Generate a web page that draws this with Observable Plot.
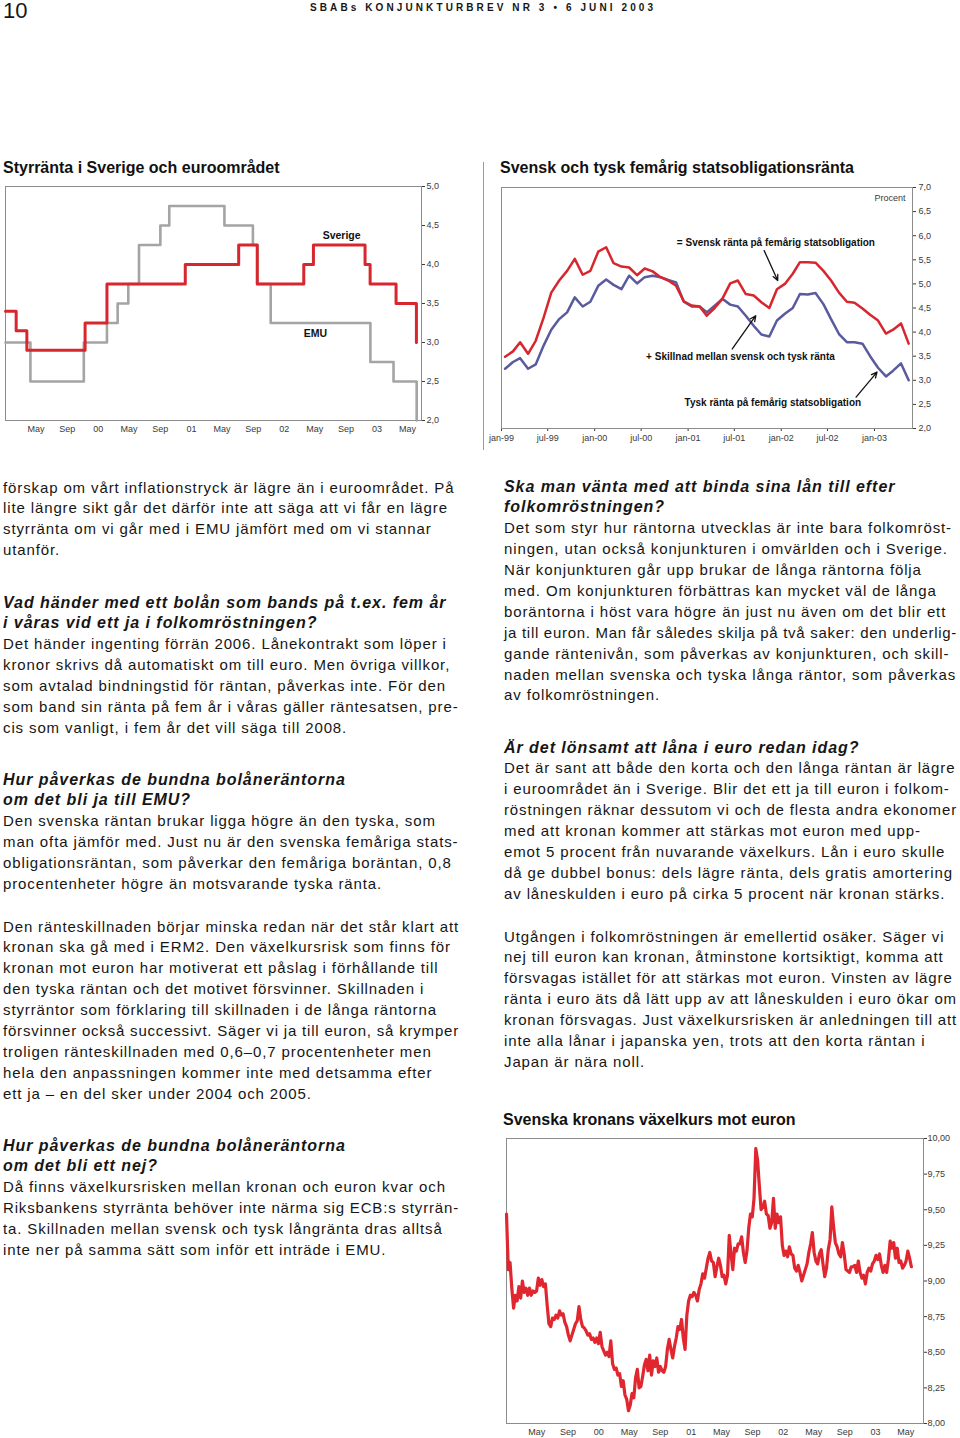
<!DOCTYPE html>
<html>
<head>
<meta charset="utf-8">
<script src="https://cdn.jsdelivr.net/npm/d3@7"></script>
<script src="https://cdn.jsdelivr.net/npm/@observablehq/plot@0.6"></script>
<style>
  html, body { margin: 0; padding: 0; background: #fff; }
  body { position: relative; width: 960px; height: 1438px; overflow: hidden;
         font-family: "Liberation Sans", Arial, Helvetica, sans-serif; color: #161616; }
  .abs { position: absolute; white-space: nowrap; }
  .txt { font-size: 15px; line-height: 20.9px; letter-spacing: 0.88px; }
  .ln { height: 20.9px; }
  .h { font-weight: bold; font-style: italic; font-size: 16px; letter-spacing: 0.95px; }
  .title { font-size: 16px; font-weight: bold; line-height: 18px; color: #111; }
  .chart { position: absolute; }
</style>
</head>
<body>
<div class="abs" style="left:3px;top:0px;font-size:22px;line-height:22px;">10</div>
<div class="abs" style="left:310px;top:2px;font-size:10px;font-weight:bold;letter-spacing:3.1px;line-height:12px;">SBABs KONJUNKTURBREV NR 3 • 6 JUNI 2003</div>

<div class="abs title" style="left:3px;top:159px;">Styrränta i Sverige och euroområdet</div>
<div class="abs title" style="left:500px;top:159px;">Svensk och tysk femårig statsobligationsränta</div>
<div class="abs title" style="left:503px;top:1111px;">Svenska kronans växelkurs mot euron</div>
<div class="abs" style="left:483px;top:162px;width:1px;height:288px;background:#9a9a9a;"></div>

<div id="c1" class="chart" style="left:0px;top:180px;"></div>
<div id="c2" class="chart" style="left:480px;top:180px;"></div>
<div id="c3" class="chart" style="left:500px;top:1130px;"></div>

<div class="abs txt" data-max="456" style="left:3px;top:477.5px;">förskap om vårt inflationstryck är lägre än i euroområdet. På<br>lite längre sikt går det därför inte att säga att vi får en lägre<br>styrränta om vi går med i EMU jämfört med om vi stannar<br>utanför.</div>

<div class="abs txt" data-max="456" style="left:3px;top:592.5px;"><span class="h">Vad händer med ett bolån som bands på t.ex. fem år</span><br><span class="h">i våras vid ett ja i folkomröstningen?</span><br>Det händer ingenting förrän 2006. Lånekontrakt som löper i<br>kronor skrivs då automatiskt om till euro. Men övriga villkor,<br>som avtalad bindningstid för räntan, påverkas inte. För den<br>som band sin ränta på fem år i våras gäller räntesatsen, pre-<br>cis som vanligt, i fem år det vill säga till 2008.</div>

<div class="abs txt" data-max="456" style="left:3px;top:769.5px;"><span class="h">Hur påverkas de bundna bolåneräntorna</span><br><span class="h">om det bli ja till EMU?</span><br>Den svenska räntan brukar ligga högre än den tyska, som<br>man ofta jämför med. Just nu är den svenska femåriga stats-<br>obligationsräntan, som påverkar den femåriga boräntan, 0,8<br>procentenheter högre än motsvarande tyska ränta.</div>

<div class="abs txt" data-max="456" style="left:3px;top:916.5px;">Den ränteskillnaden börjar minska redan när det står klart att<br>kronan ska gå med i ERM2. Den växelkursrisk som finns för<br>kronan mot euron har motiverat ett påslag i förhållande till<br>den tyska räntan och det motivet försvinner. Skillnaden i<br>styrräntor som förklaring till skillnaden i de långa räntorna<br>försvinner också successivt. Säger vi ja till euron, så krymper<br>troligen ränteskillnaden med 0,6–0,7 procentenheter men<br>hela den anpassningen kommer inte med detsamma efter<br>ett ja – en del sker under 2004 och 2005.</div>

<div class="abs txt" data-max="456" style="left:3px;top:1135.5px;"><span class="h">Hur påverkas de bundna bolåneräntorna</span><br><span class="h">om det bli ett nej?</span><br>Då finns växelkursrisken mellan kronan och euron kvar och<br>Riksbankens styrränta behöver inte närma sig ECB:s styrrän-<br>ta. Skillnaden mellan svensk och tysk långränta dras alltså<br>inte ner på samma sätt som inför ett inträde i EMU.</div>

<div class="abs txt" data-max="453" style="left:504px;top:476.5px;"><span class="h">Ska man vänta med att binda sina lån till efter</span><br><span class="h">folkomröstningen?</span><br>Det som styr hur räntorna utvecklas är inte bara folkomröst-<br>ningen, utan också konjunkturen i omvärlden och i Sverige.<br>När konjunkturen går upp brukar de långa räntorna följa<br>med. Om konjunkturen förbättras kan mycket väl de långa<br>boräntorna i höst vara högre än just nu även om det blir ett<br>ja till euron. Man får således skilja på två saker: den underlig-<br>gande räntenivån, som påverkas av konjunkturen, och skill-<br>naden mellan svenska och tyska långa räntor, som påverkas<br>av folkomröstningen.</div>

<div class="abs txt" data-max="453" style="left:504px;top:737.5px;"><span class="h">Är det lönsamt att låna i euro redan idag?</span><br>Det är sant att både den korta och den långa räntan är lägre<br>i euroområdet än i Sverige. Blir det ett ja till euron i folkom-<br>röstningen räknar dessutom vi och de flesta andra ekonomer<br>med att kronan kommer att stärkas mot euron med upp-<br>emot 5 procent från nuvarande växelkurs. Lån i euro skulle<br>då ge dubbel bonus: dels lägre ränta, dels gratis amortering<br>av låneskulden i euro på cirka 5 procent när kronan stärks.</div>

<div class="abs txt" data-max="453" style="left:504px;top:926.5px;">Utgången i folkomröstningen är emellertid osäker. Säger vi<br>nej till euron kan kronan, åtminstone kortsiktigt, komma att<br>försvagas istället för att stärkas mot euron. Vinsten av lägre<br>ränta i euro äts då lätt upp av att låneskulden i euro ökar om<br>kronan försvagas. Just växelkursrisken är anledningen till att<br>inte alla lånar i japanska yen, trots att den korta räntan i<br>Japan är nära noll.</div>

<script>
// ---------- DATA ----------
// Chart 1: policy rates (step changes)
const sverigeDates = ["1999-01-01","1999-02-12","1999-03-26","1999-11-10","2000-02-04","2000-12-08","2001-07-06","2001-09-17","2002-03-19","2002-04-26","2002-11-15","2002-12-05","2003-03-17","2003-06-05"];
const sverigeRates = [3.40,3.15,2.90,3.25,3.75,4.00,4.25,3.75,4.00,4.25,4.00,3.75,3.50,3.00];
const emuDates = ["1999-01-01","1999-04-09","1999-11-05","2000-02-04","2000-03-17","2000-04-28","2000-06-09","2000-09-01","2000-10-06","2001-05-11","2001-08-31","2001-09-18","2001-11-09","2002-12-06","2003-03-07","2003-06-06"];
const emuRates = [3.00,2.50,3.00,3.25,3.50,3.75,4.25,4.50,4.75,4.50,4.25,3.75,3.25,2.75,2.50,2.00];
const monthTicks = ["1999-05-01","1999-09-01","2000-01-01","2000-05-01","2000-09-01","2001-01-01","2001-05-01","2001-09-01","2002-01-01","2002-05-01","2002-09-01","2003-01-01","2003-05-01"];
const rateTicks1 = [2.0,2.5,3.0,3.5,4.0,4.5,5.0];
const labels1 = ["Sverige","EMU"];
const labels1Dates = ["2002-08-15","2002-05-04"];
const labels1Values = [4.37,3.12];

// Chart 2: monthly 5-year government bond yields, Jan 1999 – May 2003
const bondMonths = ["1999-01","1999-02","1999-03","1999-04","1999-05","1999-06","1999-07","1999-08","1999-09","1999-10","1999-11","1999-12",
  "2000-01","2000-02","2000-03","2000-04","2000-05","2000-06","2000-07","2000-08","2000-09","2000-10","2000-11","2000-12",
  "2001-01","2001-02","2001-03","2001-04","2001-05","2001-06","2001-07","2001-08","2001-09","2001-10","2001-11","2001-12",
  "2002-01","2002-02","2002-03","2002-04","2002-05","2002-06","2002-07","2002-08","2002-09","2002-10","2002-11","2002-12",
  "2003-01","2003-02","2003-03","2003-04","2003-05"];
const swedishYield = [3.49,3.60,3.79,3.55,3.82,4.30,4.82,5.07,5.27,5.52,
  5.19,5.27,5.67,5.76,5.43,5.36,5.34,5.18,5.32,5.26,
  5.14,5.07,4.96,4.64,4.55,4.53,4.34,4.50,4.69,5.01,
  5.07,4.79,4.76,4.62,4.50,4.89,5.00,5.21,5.45,5.45,
  5.44,5.27,5.07,4.82,4.63,4.61,4.49,4.36,4.24,3.97,
  4.05,4.18,3.76];
const germanYield = [3.24,3.38,3.46,3.24,3.33,3.72,4.05,4.27,4.41,4.72,
  4.53,4.63,4.96,5.09,4.98,4.89,5.17,5.01,5.14,5.17,
  5.14,5.08,5.03,4.63,4.53,4.53,4.41,4.55,4.69,4.57,
  4.53,4.34,4.13,3.95,3.91,4.24,4.38,4.50,4.79,4.78,
  4.81,4.58,4.27,3.96,3.79,3.79,3.76,3.50,3.26,3.08,
  3.20,3.35,3.00];
const halfYearTicks = ["1999-01-01","1999-07-01","2000-01-01","2000-07-01","2001-01-01","2001-07-01","2002-01-01","2002-07-01","2003-01-01"];
const rateTicks2 = [2.0,2.5,3.0,3.5,4.0,4.5,5.0,5.5,6.0,6.5,7.0];
const notes2 = ["= Svensk ränta på femårig statsobligation","+ Skillnad mellan svensk och tysk ränta","Tysk ränta på femårig statsobligation"];
const notes2Dates = ["2001-12-11","2001-07-25","2001-11-29"];
const notes2Values = [5.85,3.49,2.53];
const arrowFromDates = ["2001-10-26","2001-06-23","2002-10-21"];
const arrowFromValues = [5.69,3.65,2.65];
const arrowToDates = ["2001-12-18","2001-09-23","2003-01-11"];
const arrowToValues = [5.07,4.34,3.17];
const unitLabel = "Procent";
const unitDate = "2003-05-03";
const unitValue = 6.79;

// Chart 3: SEK per EUR, weekly observations starting 1 Jan 1999
const fxStart = "1999-01-01";
const fxWeekly = [
  9.47,9.08,9.13,8.95,8.81,8.90,8.86,8.96,8.88,9.00,
  8.92,8.95,8.90,8.95,8.90,8.93,8.92,8.93,9.02,8.97,
  9.01,8.96,8.98,8.83,8.70,8.68,8.74,8.73,8.76,8.74,
  8.79,8.76,8.77,8.71,8.68,8.62,8.58,8.62,8.66,8.70,
  8.72,8.82,8.73,8.68,8.67,8.65,8.62,8.63,8.59,8.60,
  8.57,8.60,8.56,8.64,8.54,8.51,8.48,8.50,8.47,8.58,
  8.42,8.38,8.39,8.34,8.35,8.26,8.30,8.20,8.17,8.09,
  8.13,8.21,8.18,8.32,8.38,8.25,8.26,8.33,8.41,8.45,
  8.37,8.48,8.34,8.44,8.40,8.46,8.36,8.40,8.37,8.36,
  8.40,8.52,8.59,8.52,8.46,8.54,8.60,8.68,8.66,8.73,
  8.60,8.52,8.76,8.86,8.90,8.89,8.92,8.90,8.86,8.94,
  8.98,9.05,9.02,9.09,9.16,9.20,9.14,9.13,9.03,9.10,
  9.16,9.11,9.03,9.04,8.98,9.04,9.32,9.19,9.08,9.23,
  9.21,9.26,9.26,9.31,9.20,9.13,9.21,9.37,9.47,9.45,
  9.58,9.93,9.85,9.67,9.50,9.52,9.56,9.47,9.46,9.37,
  9.41,9.58,9.37,9.47,9.41,9.45,9.25,9.18,9.21,9.17,
  9.24,9.19,9.18,9.09,9.07,9.11,9.06,9.00,9.04,9.08,
  9.12,9.20,9.26,9.34,9.20,9.14,9.12,9.19,9.22,9.12,
  9.03,9.09,9.22,9.29,9.52,9.38,9.27,9.24,9.19,9.17,
  9.27,9.19,9.08,9.07,9.06,9.10,9.10,9.11,9.06,9.14,
  9.06,9.02,9.04,8.98,9.06,9.09,9.07,9.12,9.14,9.18,
  9.15,9.19,9.11,9.06,9.11,9.06,9.15,9.28,9.23,9.27,
  9.16,9.23,9.13,9.14,9.09,9.11,9.14,9.21,9.16,9.10];
const fxTicks = [8.00,8.25,8.50,8.75,9.00,9.25,9.50,9.75,10.00];

// ---------- TEXT LINE FITTING ----------
document.querySelectorAll(".txt").forEach(el => {
  const max = +el.dataset.max;
  const parts = el.innerHTML.split("<br>");
  el.innerHTML = parts.map(p => `<div class="ln"><span>${p}</span></div>`).join("");
  el.querySelectorAll(".ln > span").forEach(sp => {
    const w = sp.getBoundingClientRect().width;
    if (w > max && !sp.querySelector(".h")) {
      const n = sp.textContent.length;
      sp.style.letterSpacing = (0.88 - (w - max) / n).toFixed(3) + "px";
    }
  });
});

// ---------- HELPERS ----------
const FONT = '"Liberation Sans", Arial, Helvetica, sans-serif';
const parse = s => new Date(s + "T00:00:00Z");
const comma = digits => d => d.toFixed(digits).replace(".", ",");
const monthYear = d => d.getUTCMonth() === 0 ? d3.utcFormat("%y")(d) : d3.utcFormat("%b")(d);
const lowMonthYear = d => d3.utcFormat("%b-%y")(d).toLowerCase();
const RED = "#d8262e";

// ---------- CHART 1 ----------
const sverige = sverigeDates.map((d, i) => ({date: parse(d), rate: sverigeRates[i]}));
const emu = emuDates.map((d, i) => ({date: parse(d), rate: emuRates[i]}));
const lab1 = labels1.map((t, i) => ({text: t, date: parse(labels1Dates[i]), value: labels1Values[i]}));

const chart1 = Plot.plot({
  width: 480, height: 260,
  marginTop: 6, marginBottom: 20, marginLeft: 5, marginRight: 59,
  style: {fontFamily: FONT, fontSize: "9px", color: "#3a3a3a", background: "transparent", overflow: "visible"},
  x: {type: "utc", domain: [parse("1999-01-01"), parse("2003-06-25")], ticks: monthTicks.map(parse),
      tickFormat: monthYear, tickSize: 0, tickPadding: 5, label: null},
  y: {domain: [2, 5], ticks: rateTicks1, tickFormat: comma(1), axis: "right", tickSize: 3, tickPadding: 2, label: null},
  marks: [
    Plot.frame({stroke: "#8c8c8c"}),
    Plot.line(emu, {x: "date", y: "rate", curve: "step-after", stroke: "#a4a4a4", strokeWidth: 2.6}),
    Plot.line(sverige, {x: "date", y: "rate", curve: "step-after", stroke: RED, strokeWidth: 3}),
    Plot.text(lab1, {x: "date", y: "value", text: "text", fontWeight: "bold", fontSize: 10.5, fill: "#111"})
  ]
});
document.getElementById("c1").appendChild(chart1);

// ---------- CHART 2 ----------
const monthMid = m => parse(m + "-15");
const swe = bondMonths.map((m, i) => ({date: monthMid(m), value: swedishYield[i]}));
const ger = bondMonths.map((m, i) => ({date: monthMid(m), value: germanYield[i]}));
const notes = notes2.map((t, i) => ({text: t, date: parse(notes2Dates[i]), value: notes2Values[i]}));
const arrows = arrowFromDates.map((d, i) => ({x1: parse(d), y1: arrowFromValues[i], x2: parse(arrowToDates[i]), y2: arrowToValues[i]}));

const chart2 = Plot.plot({
  width: 480, height: 270,
  marginTop: 7, marginBottom: 22, marginLeft: 21, marginRight: 48,
  style: {fontFamily: FONT, fontSize: "9px", color: "#3a3a3a", background: "transparent", overflow: "visible"},
  x: {type: "utc", domain: [parse("1999-01-01"), parse("2003-05-30")], ticks: halfYearTicks.map(parse),
      tickFormat: lowMonthYear, tickSize: 3, tickPadding: 3, label: null},
  y: {domain: [2, 7], ticks: rateTicks2, tickFormat: comma(1), axis: "right", tickSize: 3, tickPadding: 3, label: null},
  marks: [
    Plot.frame({stroke: "#8c8c8c"}),
    Plot.line(ger, {x: "date", y: "value", stroke: "#5a5a9e", strokeWidth: 2.5}),
    Plot.line(swe, {x: "date", y: "value", stroke: RED, strokeWidth: 2.5}),
    Plot.arrow(arrows, {x1: "x1", y1: "y1", x2: "x2", y2: "y2", stroke: "#111", strokeWidth: 1.3, headLength: 7, headAngle: 50}),
    Plot.text(notes, {x: "date", y: "value", text: "text", fontWeight: "bold", fontSize: 10, fill: "#111"}),
    Plot.text([unitLabel], {x: () => parse(unitDate), y: () => unitValue, text: d => d, textAnchor: "end", fontSize: 9, fill: "#3a3a3a"})
  ]
});
document.getElementById("c2").appendChild(chart2);

// ---------- CHART 3 ----------
const fx = fxWeekly.map((v, i) => ({date: d3.utcDay.offset(parse(fxStart), 7 * i), value: v}));
const chart3 = Plot.plot({
  width: 460, height: 308,
  marginTop: 8, marginBottom: 15, marginLeft: 6, marginRight: 37,
  style: {fontFamily: FONT, fontSize: "9px", color: "#3a3a3a", background: "transparent", overflow: "visible"},
  x: {type: "utc", domain: [parse("1999-01-01"), parse("2003-07-10")], ticks: monthTicks.map(parse),
      tickFormat: monthYear, tickSize: 0, tickPadding: 5, label: null},
  y: {domain: [8, 10], ticks: fxTicks, tickFormat: comma(2), axis: "right", tickSize: 3, tickPadding: 1, label: null},
  marks: [
    Plot.frame({stroke: "#8c8c8c"}),
    Plot.line(fx, {x: "date", y: "value", stroke: "#e0262f", strokeWidth: 3.2})
  ]
});
document.getElementById("c3").appendChild(chart3);
</script>
</body>
</html>
